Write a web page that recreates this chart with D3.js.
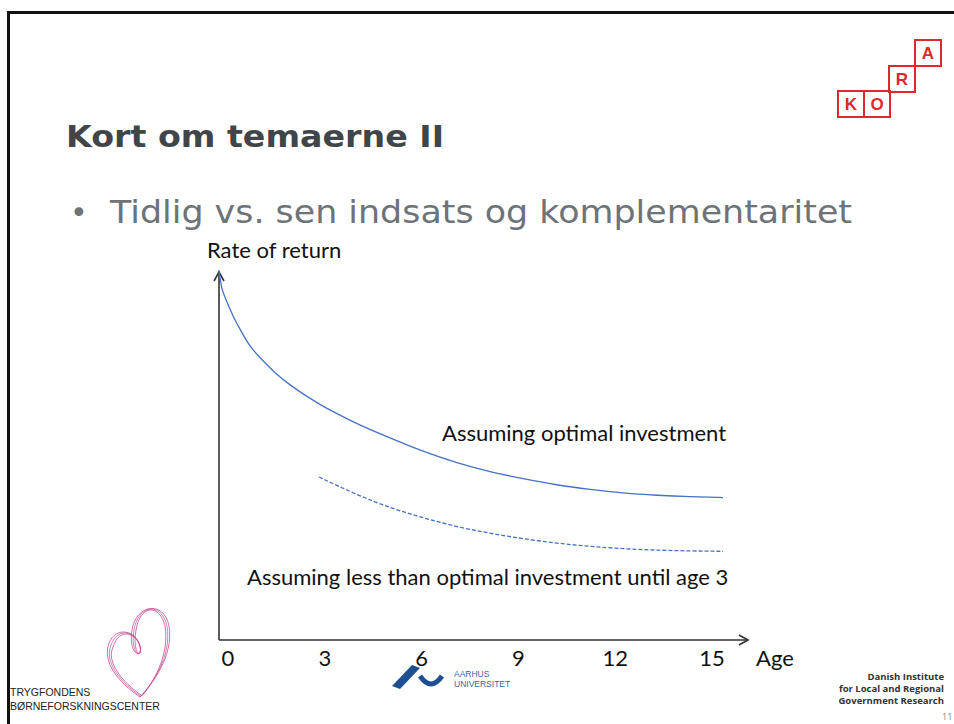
<!DOCTYPE html>
<html>
<head>
<meta charset="utf-8">
<style>
html, body { margin: 0; padding: 0; background: #fff; }
svg { display: block; }
.axis-line { stroke: #333; stroke-width: 1.6; fill: none; }
.lbl { font-family: Lato, "Open Sans", sans-serif; fill: #111; }
</style>
</head>
<body>
<script src="https://cdn.jsdelivr.net/npm/d3@7/dist/d3.min.js"></script>
<script>
var width = 954
var height = 724

// age ticks along the x axis
var ageTicks = [0, 3, 6, 9, 12, 15]

// rate of return under optimal investment (arbitrary units)
var optimalAge = [0, 0.03, 0.09, 0.22, 0.43, 0.68, 0.96, 1.33, 1.74, 2.2, 2.7, 3.22, 3.75, 4.28, 5.3, 6.32, 7.38, 8.4, 9.42, 10.47, 11.5, 12.52, 13.57, 14.6, 15.62]
var optimalRate = [100.5, 98.4, 95.1, 92.4, 88.0, 84.0, 79.6, 76.2, 72.5, 69.3, 66.3, 63.5, 61.1, 58.7, 54.9, 51.2, 48.1, 45.7, 43.8, 42.1, 40.9, 39.9, 39.3, 38.9, 38.7]

// rate of return with less than optimal investment until age 3
var lessAge = [3.1, 4.28, 5.3, 6.32, 7.38, 8.4, 9.42, 10.47, 11.5, 12.52, 13.57, 14.6, 15.62]
var lessRate = [44.3, 39.4, 35.9, 33.2, 30.7, 29.0, 27.5, 26.3, 25.4, 24.8, 24.4, 24.2, 24.1]

var svg = d3.select('body').append('svg')
    .attr('width', width)
    .attr('height', height)

// slide frame
svg.append('path')
    .attr('d', 'M8.5,' + (height + 5) + 'V12.5H' + (width + 5))
    .attr('fill', 'none')
    .attr('stroke', '#111')
    .attr('stroke-width', 3)

// title + bullet
svg.append('text')
    .attr('x', 66).attr('y', 147)
    .attr('textLength', 378).attr('lengthAdjust', 'spacingAndGlyphs')
    .style('font-family', '"DejaVu Sans", Verdana, sans-serif')
    .style('font-weight', 'bold')
    .style('font-size', '30px')
    .style('fill', '#404549')
    .text('Kort om temaerne II')

svg.append('text')
    .attr('x', 70).attr('y', 223)
    .style('font-family', '"DejaVu Sans", Verdana, sans-serif')
    .style('font-size', '30px')
    .style('fill', '#6d7377')
    .text('\u2022')

svg.append('text')
    .attr('x', 110).attr('y', 223)
    .attr('textLength', 742).attr('lengthAdjust', 'spacingAndGlyphs')
    .style('font-family', '"DejaVu Sans", Verdana, sans-serif')
    .style('font-size', '32px')
    .style('fill', '#6d7377')
    .text('Tidlig vs. sen indsats og komplementaritet')

// scales
var x = d3.scaleLinear().domain([0, 15]).range([219, 703])
var y = d3.scaleLinear().domain([0, 100]).range([640, 272])

// axes with open arrowheads
var y0 = y(0), x0 = x(0)
svg.append('path').attr('class', 'axis-line')
    .attr('d', 'M' + x0 + ',' + y0 + 'V' + (y(100)))
svg.append('path').attr('class', 'axis-line')
    .attr('d', 'M' + (x0 - 5) + ',' + (y(100) + 9) + 'L' + x0 + ',' + y(100) + 'L' + (x0 + 5) + ',' + (y(100) + 9))
var xEnd = 748
svg.append('path').attr('class', 'axis-line')
    .attr('d', 'M' + x0 + ',' + y0 + 'H' + xEnd)
svg.append('path').attr('class', 'axis-line')
    .attr('d', 'M' + (xEnd - 9) + ',' + (y0 - 5) + 'L' + xEnd + ',' + y0 + 'L' + (xEnd - 9) + ',' + (y0 + 5))

svg.selectAll('.tick-lbl')
    .data(ageTicks)
    .enter().append('text')
    .attr('class', 'lbl tick-lbl')
    .attr('x', function (d) { return x(d) + 9 })
    .attr('y', 666)
    .attr('text-anchor', 'middle')
    .style('font-size', '22px')
    .text(function (d) { return d })

svg.append('text').attr('class', 'lbl')
    .attr('x', 756).attr('y', 666)
    .style('font-size', '22px')
    .text('Age')

svg.append('text').attr('class', 'lbl')
    .attr('x', 207).attr('y', 258)
    .style('font-size', '22px')
    .text('Rate of return')

// curves
var line = d3.line()
    .x(function (d) { return x(d[0]) })
    .y(function (d) { return y(d[1]) })
    .curve(d3.curveBasis)

svg.append('path')
    .datum(d3.zip(optimalAge, optimalRate))
    .attr('d', line)
    .attr('fill', 'none')
    .attr('stroke', '#4472c4')
    .attr('stroke-width', 1.3)

svg.append('path')
    .datum(d3.zip(lessAge, lessRate))
    .attr('d', line)
    .attr('fill', 'none')
    .attr('stroke', '#4472c4')
    .attr('stroke-width', 1.3)
    .attr('stroke-dasharray', '4,2')

svg.append('text').attr('class', 'lbl')
    .attr('x', 442).attr('y', 441)
    .style('font-size', '22px')
    .text('Assuming optimal investment')

svg.append('text').attr('class', 'lbl')
    .attr('x', 247).attr('y', 585)
    .style('font-size', '22px')
    .text('Assuming less than optimal investment until age 3')

// KORA logo
var kora = [
    { ch: 'K', x: 838, y: 91 },
    { ch: 'O', x: 864, y: 91 },
    { ch: 'R', x: 889, y: 66 },
    { ch: 'A', x: 915, y: 40 }
]
var kg = svg.append('g')
kg.selectAll('rect').data(kora).enter().append('rect')
    .attr('x', function (d) { return d.x }).attr('y', function (d) { return d.y })
    .attr('width', 26).attr('height', 26)
    .attr('fill', 'none').attr('stroke', '#dc2a2e').attr('stroke-width', 2)
kg.selectAll('text').data(kora).enter().append('text')
    .attr('x', function (d) { return d.x + 13 }).attr('y', function (d) { return d.y + 19 })
    .attr('text-anchor', 'middle')
    .style('font-family', '"Liberation Sans", Arial, sans-serif')
    .style('font-weight', 'bold').style('font-size', '17px')
    .style('fill', '#dc2a2e')
    .text(function (d) { return d.ch })

// Trygfonden heart
var hg = svg.append('g').attr('fill', 'none').attr('stroke-width', 0.9)
;[0, 2, 4].forEach(function (o) {
    hg.append('path')
        .attr('d', 'M' + (140 + o * 0.5) + ',' + (697 - o * 0.3) +
            'C' + (118 + o) + ',' + 682 + ' ' + (102 + o) + ',' + 662 + ' ' + (109 + o) + ',' + (643 + o) +
            'C' + (116 + o) + ',' + 626 + ' ' + 136 + ',' + (630 + o) + ' ' + 140 + ',' + 646 +
            'C' + 143 + ',' + 660 + ' ' + (128 + o) + ',' + 655 + ' ' + (132 + o) + ',' + 630 +
            'C' + (136 + o) + ',' + 604 + ' ' + (164 - o) + ',' + (600 + o) + ' ' + (169 - o) + ',' + 626 +
            'C' + (174 - o) + ',' + 656 + ' ' + 152 + ',' + 684 + ' ' + (140 + o * 0.5) + ',' + (697 - o * 0.3))
        .attr('stroke', o === 2 ? '#7a3a5e' : '#d9479a')
        .attr('stroke-opacity', o === 2 ? 0.6 : 0.9)
})
svg.append('text')
    .attr('x', 10).attr('y', 696)
    .style('font-family', '"Liberation Sans", Arial, sans-serif')
    .style('font-size', '10.5px').style('fill', '#222')
    .text('TRYGFONDENS')
svg.append('text')
    .attr('x', 10).attr('y', 710)
    .style('font-family', '"Liberation Sans", Arial, sans-serif')
    .style('font-size', '10.5px').style('fill', '#222')
    .text('BØRNEFORSKNINGSCENTER')

// Aarhus Universitet logo
svg.append('path')
    .attr('d', 'M392,686 L412,665 L420,668 L400,689 Z')
    .attr('fill', '#1d4f91')
svg.append('path')
    .attr('d', 'M420,676 Q431,692 442,676')
    .attr('fill', 'none').attr('stroke', '#1d4f91').attr('stroke-width', 5)
svg.append('text')
    .attr('x', 454).attr('y', 677)
    .style('font-family', '"Liberation Sans", Arial, sans-serif')
    .style('font-size', '8.5px').style('fill', '#3a64a8')
    .text('AARHUS')
svg.append('text')
    .attr('x', 454).attr('y', 687)
    .style('font-family', '"Liberation Sans", Arial, sans-serif')
    .style('font-size', '8.5px').style('fill', '#3a64a8')
    .text('UNIVERSITET')

// Danish Institute text
var instLines = ['Danish Institute', 'for Local and Regional', 'Government Research']
svg.selectAll('.inst').data(instLines).enter().append('text')
    .attr('class', 'inst')
    .attr('x', 944)
    .attr('y', function (d, i) { return 680 + i * 12 })
    .attr('text-anchor', 'end')
    .style('font-family', '"Open Sans", sans-serif')
    .style('font-weight', 'bold').style('font-size', '9.5px').style('fill', '#333')
    .text(function (d) { return d })

svg.append('text')
    .attr('x', 942).attr('y', 720)
    .style('font-family', '"Open Sans", sans-serif')
    .style('font-size', '9px').style('fill', '#888')
    .text('11')
</script>
</body>
</html>
